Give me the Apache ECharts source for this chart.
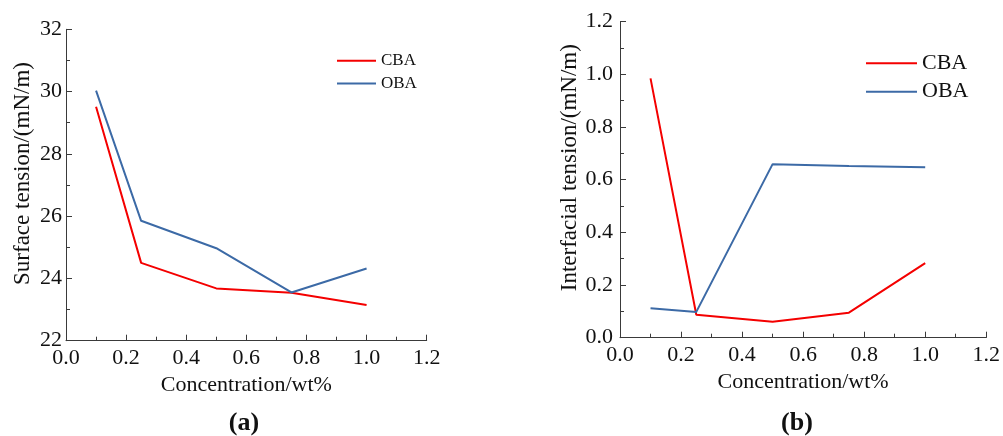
<!DOCTYPE html>
<html>
<head>
<meta charset="utf-8">
<script src="https://cdn.jsdelivr.net/npm/echarts@6/dist/echarts.min.js"></script>
<style>
html,body{margin:0;padding:0;background:#fff;}
#chart{width:1003px;height:436px;}
</style>
</head>
<body>
<div id="chart"></div>
<script>
// Data
const concentration = [0.1, 0.25, 0.5, 0.75, 1.0];
const surfaceCBA = [29.51, 24.50, 23.68, 23.54, 23.15];
const surfaceOBA = [30.03, 25.85, 24.97, 23.55, 24.32];
const interfacialCBA = [0.985, 0.087, 0.061, 0.095, 0.283];
const interfacialOBA = [0.112, 0.098, 0.659, 0.652, 0.647];
const seriesNames = ['CBA', 'OBA'];
const panelLabels = ['(a)', '(b)'];
const xAxisTitle = 'Concentration/wt%';
const yAxisTitles = ['Surface tension/(mN/m)', 'Interfacial tension/(mN/m)'];

const RED = '#f40000';
const BLUE = '#3c6aa6';
const AXIS = '#3a3a3a';
const FONT = '"Liberation Serif", "Times New Roman", serif';

function pairs(xs, ys) { return xs.map((x, i) => [x, ys[i]]); }

function xAxisCfg(gridIndex, gap) {
  return {
    type: 'value', gridIndex: gridIndex, min: 0, max: 1.2, interval: 0.2,
    name: xAxisTitle, nameLocation: 'middle', nameGap: gap,
    nameTextStyle: { fontFamily: FONT, fontSize: 22, color: '#111' },
    axisLine: { show: true, onZero: false, lineStyle: { color: AXIS, width: 1 } },
    axisTick: { show: true, inside: true, length: 6, lineStyle: { color: AXIS } },
    minorTick: { show: true, splitNumber: 2, length: 4, lineStyle: { color: AXIS } },
    splitLine: { show: false },
    axisLabel: { fontFamily: FONT, fontSize: 22, color: '#111', margin: 7,
      formatter: v => v.toFixed(1) }
  };
}

function yAxisCfg(gridIndex, min, max, interval, gap, title, fmt, padLeft, labMargin) {
  return {
    type: 'value', gridIndex: gridIndex, min: min, max: max, interval: interval,
    name: title, nameLocation: 'middle', nameGap: gap,
    nameTextStyle: { fontFamily: FONT, fontSize: 23, color: '#111', padding: [0, 0, 0, padLeft] },
    axisLine: { show: true, onZero: false, lineStyle: { color: AXIS, width: 1 } },
    axisTick: { show: true, inside: true, length: 6, lineStyle: { color: AXIS } },
    minorTick: { show: true, splitNumber: 2, length: 4, lineStyle: { color: AXIS } },
    splitLine: { show: false },
    axisLabel: { fontFamily: FONT, fontSize: 22, color: '#111', margin: labMargin, formatter: fmt }
  };
}

function lineSeries(name, data, color, xi, yi) {
  return {
    type: 'line', name: name, data: data, xAxisIndex: xi, yAxisIndex: yi,
    symbol: 'none', showSymbol: false, smooth: false,
    lineStyle: { color: color, width: 2 }, itemStyle: { color: color },
    animation: false
  };
}

const chart = echarts.init(document.getElementById('chart'), null, { renderer: 'canvas' });
chart.setOption({
  backgroundColor: '#ffffff',
  animation: false,
  grid: [
    { left: 66, top: 29.3, width: 360.7, height: 311.4, containLabel: false },
    { left: 620, top: 21.7, width: 368.3, height: 316, containLabel: false }
  ],
  xAxis: [xAxisCfg(0, 33), xAxisCfg(1, 31)],
  yAxis: [
    yAxisCfg(0, 22, 32, 2, 31.5, yAxisTitles[0], v => String(Math.round(v)), 23, 4),
    yAxisCfg(1, 0, 1.2, 0.2, 37, yAxisTitles[1], v => v.toFixed(1), 24, 7)
  ],
  legend: [
    {
      orient: 'vertical', left: 331, top: 47.2, itemWidth: 39, itemHeight: 14, itemGap: 5.7,
      data: seriesNames,
      textStyle: { fontFamily: FONT, fontSize: 17, color: '#111' },
      itemStyle: { opacity: 0 }
    },
    {
      orient: 'vertical', left: 860, top: 47.3, itemWidth: 51, itemHeight: 14, itemGap: 6.4,
      data: seriesNames,
      textStyle: { fontFamily: FONT, fontSize: 22, color: '#111' },
      itemStyle: { opacity: 0 }
    }
  ],
  series: [
    lineSeries(seriesNames[0], pairs(concentration, surfaceCBA), RED, 0, 0),
    lineSeries(seriesNames[1], pairs(concentration, surfaceOBA), BLUE, 0, 0),
    lineSeries(seriesNames[0], pairs(concentration, interfacialCBA), RED, 1, 1),
    lineSeries(seriesNames[1], pairs(concentration, interfacialOBA), BLUE, 1, 1)
  ],
  graphic: [
    { type: 'text', x: 244, y: 423, style: { text: panelLabels[0], font: 'bold 26px ' + FONT, fill: '#111', align: 'center', verticalAlign: 'middle' } },
    { type: 'text', x: 797, y: 423, style: { text: panelLabels[1], font: 'bold 26px ' + FONT, fill: '#111', align: 'center', verticalAlign: 'middle' } }
  ]
});
</script>
</body>
</html>
